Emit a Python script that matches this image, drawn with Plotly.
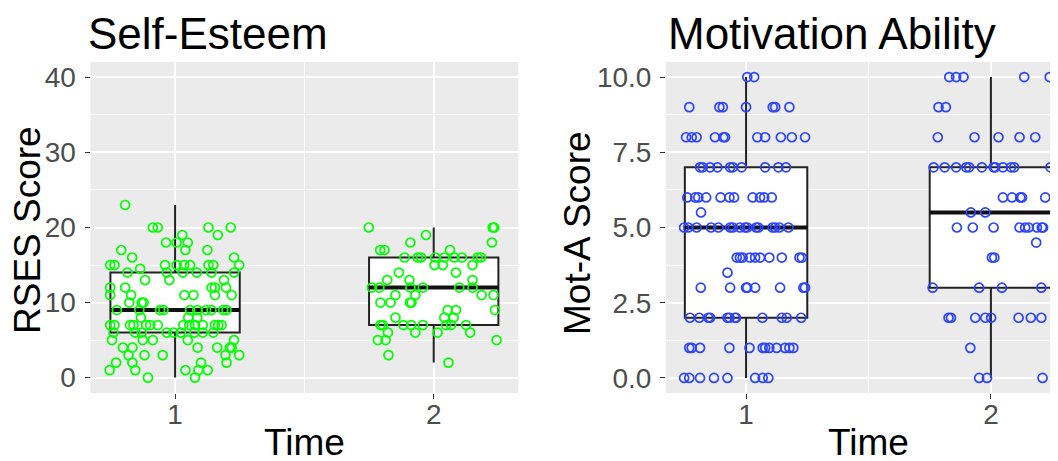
import plotly.graph_objects as go

# ---------------- data ----------------
groups = [1, 2]
time_labels = ["1", "2"]

# Self-Esteem (RSES) box statistics per Time
se_q1 = [6, 7]
se_median = [9, 12]
se_q3 = [14, 16]
se_lower = [0, 2]
se_upper = [23, 20]

# Motivation Ability (Mot-A) box statistics per Time
mot_q1 = [2, 3]
mot_median = [5, 5.5]
mot_q3 = [7, 7]
mot_lower = [0, 0]
mot_upper = [10, 10]

# jittered raw scores: (score, [horizontal jitter offsets])
se_t1_rows = [
    (23, [-0.193]),
    (20, [-0.086, -0.067, 0.129, 0.215]),
    (19, [0.028, 0.165]),
    (18, [-0.035, 0.006, 0.049]),
    (17, [-0.208, 0.040, 0.125]),
    (16, [-0.166, 0.228]),
    (15, [-0.251, -0.234, -0.039, 0.006, 0.035, 0.058, 0.129, 0.148, 0.248]),
    (14.5, [-0.135]),
    (14, [-0.184, -0.032, 0.030, 0.084, 0.141, 0.228]),
    (13, [-0.116, -0.022, 0.189]),
    (12, [-0.251, -0.193, 0.141, 0.154, 0.197]),
    (11, [-0.251, -0.170, 0.036, 0.071, 0.154, 0.219]),
    (10, [-0.177, -0.129, -0.122]),
    (9, [-0.225, -0.138, -0.058, -0.045, 0.058, 0.086, 0.120, 0.141, 0.186, 0.199]),
    (8, [-0.132, 0.051, 0.086]),
    (7, [-0.251, -0.234, -0.174, -0.161, -0.112, -0.096, -0.067, 0.032, 0.055, 0.077, 0.107, 0.154, 0.167, 0.180]),
    (6, [-0.238, -0.154, -0.129, -0.032, -0.006, 0.022, 0.075, 0.107, 0.148]),
    (5, [-0.244, -0.125, -0.086, 0.049, 0.228]),
    (4, [-0.202, -0.165, 0.087, 0.163, 0.212, 0.219]),
    (3, [-0.180, -0.118, -0.048, 0.195, 0.248]),
    (2, [-0.228, -0.165, 0.100, 0.199]),
    (1, [-0.253, -0.154, 0.040, 0.090, 0.126]),
    (0, [-0.105, 0.077]),
]
se_t2_rows = [
    (20, [-0.251, 0.228, 0.234]),
    (19, [-0.030]),
    (18, [-0.090, 0.225]),
    (17, [-0.207, -0.190, 0.063]),
    (16, [-0.113, -0.062, -0.049, 0.006, 0.041, 0.080, 0.109, 0.170, 0.183]),
    (15, [0.003, 0.035, 0.150]),
    (14, [-0.135, 0.086]),
    (13, [-0.180, -0.094, 0.150]),
    (12, [-0.239, -0.210, -0.090, -0.042, 0.099, 0.150]),
    (11, [-0.148, -0.071, 0.185, 0.231]),
    (10, [-0.206, -0.167, -0.092, -0.086]),
    (9, [0.054, 0.086, 0.237]),
    (8, [-0.148, 0.041, 0.077]),
    (7, [-0.206, -0.197, -0.117, -0.087, -0.042, 0.048, 0.067, 0.125]),
    (6, [-0.177, -0.071, 0.015, 0.141]),
    (5, [-0.216, -0.186, 0.243]),
    (3, [-0.175]),
    (2, [0.057]),
]
mot_t1_rows = [
    (10, [0.005, 0.033]),
    (9, [-0.232, -0.109, -0.095, 0.000, 0.109, 0.119, 0.177]),
    (8, [-0.245, -0.222, -0.202, -0.127, -0.093, -0.086, 0.046, 0.078, 0.142, 0.187, 0.241]),
    (7, [-0.188, -0.177, -0.147, -0.117, -0.065, -0.054, -0.018, 0.078, 0.132, 0.163]),
    (6, [-0.240, -0.208, -0.195, -0.163, -0.104, -0.068, -0.049, 0.027, 0.057, 0.074, 0.105]),
    (5.5, [-0.184]),
    (5, [-0.253, -0.236, -0.202, -0.143, -0.113, -0.065, -0.054, -0.025, -0.004, 0.005, 0.041, 0.050, 0.108, 0.119, 0.136, 0.173]),
    (4, [-0.038, -0.025, -0.014, 0.016, 0.037, 0.057, 0.095, 0.146, 0.218, 0.228]),
    (3.5, [-0.076]),
    (3, [-0.185, -0.065, 0.000, 0.005, 0.037, 0.139, 0.234, 0.241]),
    (2, [-0.229, -0.191, -0.154, -0.147, -0.076, -0.068, -0.045, -0.041, 0.067, 0.146, 0.166, 0.225]),
    (1, [-0.232, -0.222, -0.188, -0.068, 0.014, 0.068, 0.078, 0.095, 0.125, 0.159, 0.177, 0.193]),
    (0, [-0.253, -0.232, -0.188, -0.131, -0.076, 0.037, 0.068, 0.091]),
]
mot_t2_rows = [
    (10, [-0.170, -0.142, -0.112, 0.136, 0.240]),
    (9, [-0.214, -0.184]),
    (8, [-0.217, -0.067, 0.031, 0.117, 0.181]),
    (7, [-0.234, -0.189, -0.142, -0.101, -0.089, -0.037, 0.011, 0.018, 0.049, 0.082, 0.095, 0.243]),
    (6, [0.049, 0.086, 0.120, 0.127, 0.222]),
    (5.5, [-0.082, -0.023]),
    (5, [-0.139, -0.074, 0.011, 0.117, 0.140, 0.154, 0.188, 0.208, 0.213]),
    (4.5, [0.185]),
    (4, [0.004, 0.014]),
    (3, [-0.238, -0.048, 0.045, 0.206]),
    (2, [-0.173, -0.163, -0.064, -0.023, 0.001, 0.113, 0.163, 0.206]),
    (1, [-0.084]),
    (0, [-0.048, -0.016, 0.211]),
]

# ---------------- styling ----------------
# the page body has an 8px margin, so the figure is placed at (8, 8)
OFF = 8
W, H = 1058 - OFF, 461 - OFF
FONT = "Liberation Sans, Arial, sans-serif"
GREEN = "#00FF00"
BLUE = "#2B44FF"
BOX_WIDTH = 0.5


def flatten(rows, group):
    xs, ys = [], []
    for score, offs in rows:
        for o in offs:
            xs.append(group + o)
            ys.append(score)
    return xs, ys


def px_x(p):
    return (p - OFF) / W


def px_y(p):
    return 1 - (p - OFF) / H


fig = go.Figure()


def add_panel(xa, ya, q1, med, q3, lo, hi, rows_list, color):
    fig.add_trace(go.Box(
        x=groups, q1=q1, median=med, q3=q3, lowerfence=lo, upperfence=hi,
        width=BOX_WIDTH, fillcolor="white", line=dict(color="#222222", width=2),
        whiskerwidth=0, boxpoints=False, hoverinfo="skip", showlegend=False,
        xaxis=xa, yaxis=ya,
    ))
    for g, m in zip(groups, med):
        fig.add_trace(go.Scatter(
            x=[g - BOX_WIDTH / 2, g + BOX_WIDTH / 2], y=[m, m], mode="lines",
            line=dict(color="#111111", width=4), showlegend=False,
            hoverinfo="skip", xaxis=xa, yaxis=ya,
        ))
    for g, rows in zip(groups, rows_list):
        xs, ys = flatten(rows, g)
        fig.add_trace(go.Scatter(
            x=xs, y=ys, mode="markers",
            marker=dict(symbol="circle-open", size=9, color=color,
                        line=dict(color=color, width=1.7)),
            showlegend=False, xaxis=xa, yaxis=ya,
        ))


add_panel("x", "y", se_q1, se_median, se_q3, se_lower, se_upper,
          [se_t1_rows, se_t2_rows], GREEN)
add_panel("x2", "y2", mot_q1, mot_median, mot_q3, mot_lower, mot_upper,
          [mot_t1_rows, mot_t2_rows], BLUE)

tickfont = dict(family=FONT, size=28, color="#4D4D4D")
common_axis = dict(
    showline=False, zeroline=False, showgrid=True, gridcolor="white",
    gridwidth=1.5, ticks="outside", ticklen=5, tickwidth=1.3,
    tickcolor="#333333", tickfont=tickfont, automargin=False, fixedrange=True,
)

ydom = [px_y(393), px_y(62)]

fig.update_layout(
    width=W, height=H,
    margin=dict(l=0, r=0, t=0, b=0),
    paper_bgcolor="white", plot_bgcolor="#EBEBEB",
    font=dict(family=FONT),
    xaxis=dict(domain=[px_x(90.5), px_x(518.3)], range=[0.673, 2.327],
               tickvals=groups, ticktext=time_labels,
               minor=dict(tickvals=[1.5], showgrid=True, gridcolor="white",
                          gridwidth=0.7, ticks=""),
               anchor="y", ticklabelstandoff=-9, **common_axis),
    yaxis=dict(domain=ydom, range=[-2.05, 42.05], tickvals=[0, 10, 20, 30, 40],
               minor=dict(tickvals=[5, 15, 25, 35], showgrid=True,
                          gridcolor="white", gridwidth=0.7, ticks=""),
               anchor="x", ticklabelstandoff=3, **common_axis),
    xaxis2=dict(domain=[px_x(666), 1.0], range=[0.673, 2.274],
                tickvals=groups, ticktext=time_labels,
                minor=dict(tickvals=[1.5], showgrid=True, gridcolor="white",
                           gridwidth=0.7, ticks=""),
                anchor="y2", ticklabelstandoff=-9, **common_axis),
    yaxis2=dict(domain=ydom, range=[-0.5, 10.5],
                tickvals=[0, 2.5, 5, 7.5, 10],
                ticktext=["0.0", "2.5", "5.0", "7.5", "10.0"],
                minor=dict(tickvals=[1.25, 3.75, 6.25, 8.75], showgrid=True,
                           gridcolor="white", gridwidth=0.7, ticks=""),
                anchor="x2", ticklabelstandoff=3, **common_axis),
)

title_font = dict(family=FONT, size=44, color="black")
axis_title_font = dict(family=FONT, size=37, color="black")

annotations = [
    dict(text="Self-Esteem", x=px_x(86), y=px_y(34), xanchor="left",
         yanchor="middle", font=title_font),
    dict(text="Motivation Ability", x=px_x(666), y=px_y(34), xanchor="left",
         yanchor="middle", font=title_font),
    dict(text="Time", x=px_x(304.4), y=px_y(442), xanchor="center",
         yanchor="middle", font=axis_title_font),
    dict(text="Time", x=px_x(868), y=px_y(442), xanchor="center",
         yanchor="middle", font=axis_title_font),
    dict(text="RSES Score", x=px_x(27), y=px_y(230), xanchor="center",
         yanchor="middle", textangle=-90, font=axis_title_font),
    dict(text="Mot-A Score", x=px_x(577), y=px_y(233), xanchor="center",
         yanchor="middle", textangle=-90, font=axis_title_font),
]
for a in annotations:
    a.update(xref="paper", yref="paper", showarrow=False)
fig.update_layout(annotations=annotations)

fig.write_html("out.html")
